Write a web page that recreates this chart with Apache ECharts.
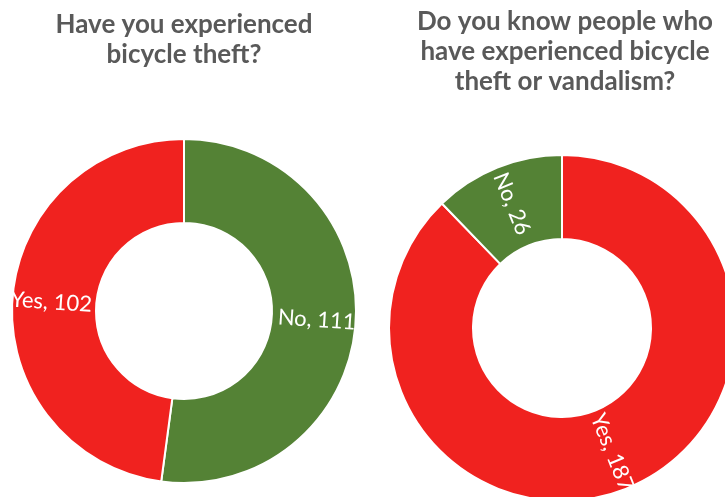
<!DOCTYPE html>
<html>
<head>
<meta charset="utf-8">
<script src="https://cdn.jsdelivr.net/npm/echarts@6/dist/echarts.min.js"></script>
<style>
  html, body { margin: 0; padding: 0; background: #ffffff; }
  #chart { width: 725px; height: 497px; }
</style>
</head>
<body>
<div id="chart"></div>
<script>
// Survey answers: own theft experience vs. acquaintances' theft/vandalism
const theftTitle = 'Have you experienced\nbicycle theft?';
const theftNames = ['No', 'Yes'];
const theftValues = [111, 102];

const knownTitle = 'Do you know people who\nhave experienced bicycle\ntheft or vandalism?';
const knownNames = ['Yes', 'No'];
const knownValues = [187, 26];

const colorYes = '#F0221F';
const colorNo = '#548235';
const colorFor = name => (name === 'Yes' ? colorYes : colorNo);

function buildData(names, values) {
  return names.map((n, i) => ({
    name: n,
    value: values[i],
    itemStyle: { color: colorFor(n) }
  }));
}

const titleStyle = {
  fontFamily: 'Lato',
  fontWeight: 'bold',
  fontSize: 26,
  lineHeight: 30,
  color: '#595959'
};

const labelStyle = {
  show: true,
  position: 'inside',
  rotate: 'radial',
  formatter: '{b}, {c}',
  color: '#ffffff',
  fontFamily: 'Lato',
  fontSize: 22,
  textBorderWidth: 0
};

const chart = echarts.init(document.getElementById('chart'), null, { renderer: 'canvas' });
chart.setOption({
  animation: false,
  backgroundColor: '#ffffff',
  title: [
    { text: theftTitle, left: 184, top: 10, textAlign: 'center', padding: 0, textStyle: titleStyle },
    { text: knownTitle, left: 565, top: 7, textAlign: 'center', padding: 0, textStyle: titleStyle }
  ],
  series: [
    {
      type: 'pie',
      center: [184, 311],
      radius: [88, 172],
      startAngle: 90,
      clockwise: true,
      avoidLabelOverlap: false,
      itemStyle: { borderColor: '#ffffff', borderWidth: 2 },
      label: labelStyle,
      labelLine: { show: false },
      emphasis: { disabled: true },
      data: buildData(theftNames, theftValues)
    },
    {
      type: 'pie',
      center: [562, 328],
      radius: [89, 173],
      startAngle: 90,
      clockwise: true,
      avoidLabelOverlap: false,
      itemStyle: { borderColor: '#ffffff', borderWidth: 2 },
      label: labelStyle,
      labelLine: { show: false },
      emphasis: { disabled: true },
      data: buildData(knownNames, knownValues)
    }
  ]
});
</script>
</body>
</html>
